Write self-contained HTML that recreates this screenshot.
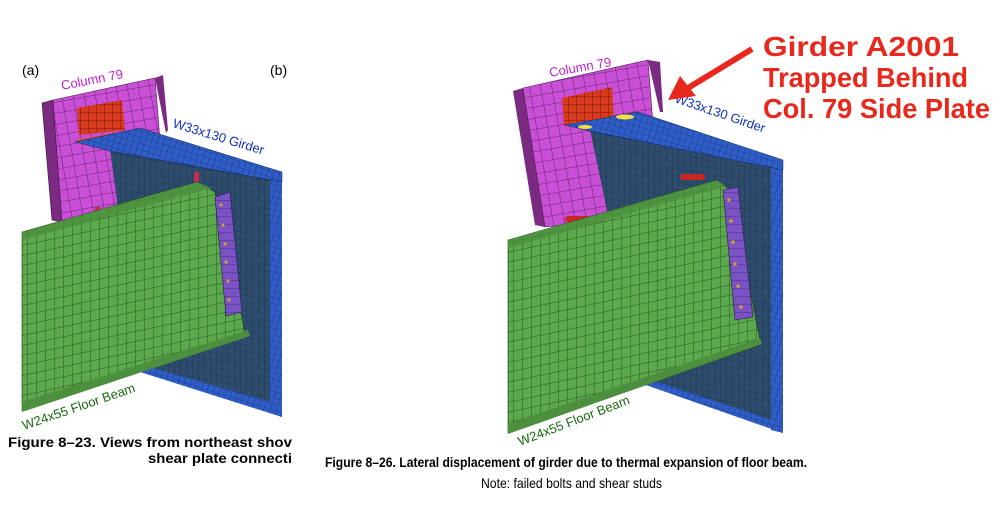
<!DOCTYPE html>
<html><head><meta charset="utf-8"><style>
html,body{margin:0;padding:0;background:#fff;width:1000px;height:522px;overflow:hidden}
svg{display:block}
text{font-family:"Liberation Sans",sans-serif}
</style></head><body>
<svg width="1000" height="522" viewBox="0 0 1000 522" xmlns="http://www.w3.org/2000/svg">
<defs>
<pattern id="gM" width="11" height="11" patternUnits="userSpaceOnUse" patternTransform="rotate(-10)"><rect width="11" height="11" fill="#c84fd6"/><path d="M0 0H11M0 0V11" stroke="#4a1a50" stroke-width="0.8"/></pattern>
<pattern id="gR" width="8" height="8" patternUnits="userSpaceOnUse"><rect width="8" height="8" fill="#d83a1e"/><path d="M0 0H8M0 0V8" stroke="#5a1008" stroke-width="0.8"/></pattern>
<pattern id="gB" width="6" height="6" patternUnits="userSpaceOnUse" patternTransform="rotate(17)"><rect width="6" height="6" fill="#2f5ec8"/><path d="M0 0H6M0 0V6" stroke="#10245a" stroke-width="0.6"/></pattern>
<pattern id="gW" width="6" height="7" patternUnits="userSpaceOnUse" patternTransform="skewY(10)"><rect width="6" height="7" fill="#2e4d6e"/><path d="M0 0H6M0 0V7" stroke="#14283e" stroke-width="0.6"/></pattern>
<pattern id="gG" width="9" height="10" patternUnits="userSpaceOnUse" patternTransform="skewY(-12)"><rect width="9" height="10" fill="#5ca84c"/><path d="M0 0H9M0 0V10" stroke="#173a12" stroke-width="0.7"/></pattern>
<pattern id="gP" width="8" height="8" patternUnits="userSpaceOnUse"><rect width="8" height="8" fill="#7a52c4"/><path d="M0 0H8" stroke="#2a1650" stroke-width="0.6"/></pattern>
</defs>

<text x="22" y="75" font-size="14">(a)</text>
<text x="270" y="75" font-size="14">(b)</text>
<polygon points="42,103 53,100 62,222 52,220" fill="#7a2a80" stroke="#3a103e" stroke-width="0.6"/>
<polygon points="53,100 155,78 166,215 62,222" fill="url(#gM)" stroke="#4a1a50" stroke-width="0.6"/>
<polygon points="155,78 163,75 168,130 166,133" fill="#7a2a80"/>
<polygon points="77,108 122,100 125,130 79,135" fill="url(#gR)"/>
<polygon points="75,140 140,128 148,130 82,145" fill="#e85030"/>
<polygon points="110,150 282,182 282,417 140,367" fill="url(#gW)"/>
<polygon points="270,180 282,182 282,417 270,412" fill="url(#gB)"/>
<polygon points="135,363 282,405 282,417 140,372" fill="url(#gB)"/>
<polygon points="75,142 140,128 282,172 282,182 110,151" fill="url(#gB)" stroke="#10245a" stroke-width="0.5"/>
<rect x="194" y="172" width="5" height="12" fill="#c0304a"/>
<rect x="95" y="207" width="5" height="12" fill="#c0304a"/>
<polygon points="22,232 197,182 215,192 245,332 248,336 22,410" fill="url(#gG)" stroke="#173a12" stroke-width="0.6"/>
<polygon points="22,232 197,182 212,188 22,240" fill="#4c8f3e" opacity="0.8"/>
<polygon points="22,402 248,330 250,336 22,412" fill="#4c8f3e"/>
<polygon points="215,197 230,192 242,312 226,316" fill="url(#gP)" stroke="#2a1650" stroke-width="0.6"/>
<g fill="#c9a030"><circle cx="221" cy="205" r="1.6"/><circle cx="223" cy="225" r="1.6"/><circle cx="225" cy="244" r="1.6"/><circle cx="226" cy="262" r="1.6"/><circle cx="228" cy="281" r="1.6"/><circle cx="229" cy="300" r="1.6"/></g>
<text transform="translate(62,90) rotate(-11)" font-size="13" fill="#c020d0">Column 79</text>
<text transform="translate(172,127) rotate(17)" font-size="13" fill="#1030c0">W33x130 Girder</text>
<text transform="translate(24,430) rotate(-19)" font-size="13" fill="#1a6a10">W24x55 Floor Beam</text>
<text x="8" y="447" font-size="14" font-weight="bold" textLength="284" lengthAdjust="spacingAndGlyphs">Figure 8–23.  Views from northeast shov</text>
<text x="148" y="463" font-size="14" font-weight="bold" textLength="144" lengthAdjust="spacingAndGlyphs">shear plate connecti</text>

<polygon points="513,91 523,88 545,227 535,225" fill="#7a2a80"/>
<polygon points="523,88 648,60 660,215 545,227" fill="url(#gM)" stroke="#4a1a50" stroke-width="0.6"/>
<polygon points="648,60 660,62 663,112 660,112" fill="#7a2a80"/>
<polygon points="562,98 612,87 614,120 564,126" fill="url(#gR)"/>
<polygon points="565,124 638,112 600,130 590,131" fill="#e85030"/>
<polygon points="590,130 783,160 783,433 643,380" fill="url(#gW)"/>
<polygon points="771,158 783,160 783,433 771,430" fill="url(#gB)"/>
<polygon points="640,376 783,424 783,433 643,384" fill="url(#gB)"/>
<polygon points="565,125 638,112 783,160 783,170 590,131" fill="url(#gB)" stroke="#10245a" stroke-width="0.5"/>
<ellipse cx="585" cy="127" rx="7" ry="2" fill="#f0e040"/><ellipse cx="625" cy="117" rx="9" ry="2.5" fill="#f0e040"/>
<rect x="680" y="174" width="25" height="6" rx="3" fill="#c82820"/>
<rect x="565" y="216" width="25" height="6" rx="3" fill="#c82820"/>
<polygon points="508,240 717,180 730,190 760,340 760,345 508,433" fill="url(#gG)" stroke="#173a12" stroke-width="0.6"/>
<polygon points="508,240 717,180 726,186 508,248" fill="#4c8f3e" opacity="0.8"/>
<polygon points="508,424 760,338 762,344 508,434" fill="#4c8f3e"/>
<polygon points="723,190 738,187 753,317 735,320" fill="url(#gP)" stroke="#2a1650" stroke-width="0.6"/>
<g fill="#d4a030"><circle cx="729" cy="200" r="1.8"/><circle cx="731" cy="221" r="1.8"/><circle cx="733" cy="242" r="1.8"/><circle cx="735" cy="264" r="1.8"/><circle cx="738" cy="286" r="1.8"/><circle cx="741" cy="307" r="1.8"/></g>
<text transform="translate(550,77) rotate(-10)" font-size="13" fill="#c020d0">Column 79</text>
<text transform="translate(674,102) rotate(19)" font-size="13" fill="#1030c0">W33x130 Girder</text>
<text transform="translate(520,446) rotate(-21)" font-size="13" fill="#1a6a10">W24x55 Floor Beam</text>
<line x1="752" y1="49" x2="688" y2="88" stroke="#e8281c" stroke-width="6"/>
<polygon points="668,100 680,76 696,96" fill="#e8281c"/>
<g fill="#e8281c" font-size="28" font-weight="bold">
<text x="763" y="56" textLength="196" lengthAdjust="spacingAndGlyphs">Girder A2001</text>
<text x="763" y="87" textLength="205" lengthAdjust="spacingAndGlyphs">Trapped Behind</text>
<text x="763" y="118" textLength="227" lengthAdjust="spacingAndGlyphs">Col. 79 Side Plate</text>
</g>
<text x="325" y="467" font-size="14" font-weight="bold" textLength="482" lengthAdjust="spacingAndGlyphs">Figure 8–26.  Lateral displacement of girder due to thermal expansion of floor beam.</text>
<text x="481" y="488" font-size="14" textLength="181" lengthAdjust="spacingAndGlyphs">Note: failed bolts and shear studs</text>
</svg>
</body></html>
